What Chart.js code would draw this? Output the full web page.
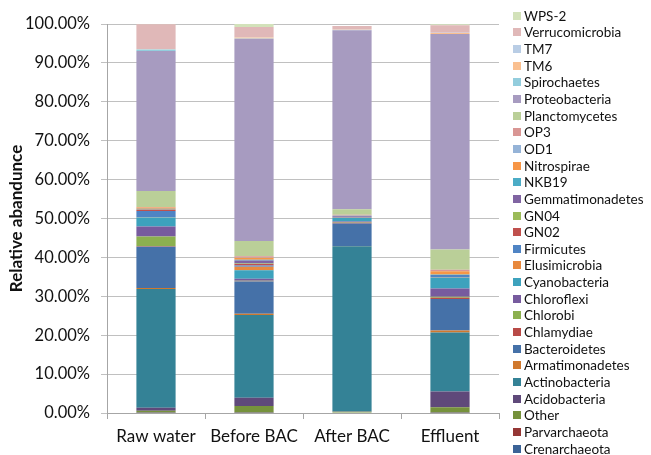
<!DOCTYPE html>
<html>
<head>
<meta charset="utf-8">
<script src="https://cdn.jsdelivr.net/npm/chart.js@4"></script>
<style>
  html, body { margin: 0; padding: 0; background: #fff; }
  #wrap { position: relative; width: 651px; height: 455px; }
  #legend { position: absolute; left: 513px; top: 0; font-family: Lato, sans-serif; font-size: 13.5px; color: #111; }
  .item { position: absolute; left: 0; height: 16px; display: flex; align-items: center; white-space: nowrap; }
  .sw { width: 8px; height: 8px; margin-right: 3px; flex: none; }
</style>
</head>
<body>
<div id="wrap">
  <canvas id="c" width="651" height="455"></canvas>
  <div id="legend"></div>
</div>
<script>
// Sampling points along the treatment train
const categories = ['Raw water', 'Before BAC', 'After BAC', 'Effluent'];

// Phyla, listed from the bottom of each stack to the top
const phyla = [
  'Crenarchaeota', 'Parvarchaeota', 'Other', 'Acidobacteria', 'Actinobacteria',
  'Armatimonadetes', 'Bacteroidetes', 'Chlamydiae', 'Chlorobi', 'Chloroflexi',
  'Cyanobacteria', 'Elusimicrobia', 'Firmicutes', 'GN02', 'GN04',
  'Gemmatimonadetes', 'NKB19', 'Nitrospirae', 'OD1', 'OP3',
  'Planctomycetes', 'Proteobacteria', 'Spirochaetes', 'TM6', 'TM7',
  'Verrucomicrobia', 'WPS-2'
];

// Relative abundance (%) of each phylum, same order as `phyla`
const rawWater  = [0.05, 0.05, 0.45, 0.8, 30.5, 0.3, 10.6, 0.1, 2.5, 2.6, 2.3, 0.1, 1.6, 0.3, 0.05, 0.1, 0.1, 0.3, 0.05, 0.1, 4.1, 36.0, 0.4, 0.05, 0.1, 6.35, 0.05];
const beforeBAC = [0.05, 0.05, 1.7, 2.1, 21.3, 0.3, 8.3, 0.1, 0.1, 0.5, 2.2, 0.9, 0.3, 0.4, 0.1, 0.8, 0.2, 0.5, 0.1, 0.3, 3.9, 52.0, 0.05, 0.3, 0.05, 2.6, 0.8];
const afterBAC  = [0.0, 0.0, 0.33, 0.05, 42.5, 0.05, 5.8, 0.2, 0.1, 0.2, 0.87, 0.05, 0.05, 0.05, 0.05, 0.3, 0.05, 0.05, 0.2, 0.05, 1.46, 46.0, 0.05, 0.05, 0.05, 0.9, 0.0];
const effluent  = [0.05, 0.05, 1.4, 4.0, 15.2, 0.5, 8.1, 0.3, 0.3, 2.1, 2.8, 0.05, 0.6, 0.05, 0.05, 0.05, 0.05, 0.8, 0.05, 0.35, 5.15, 55.4, 0.05, 0.25, 0.05, 1.9, 0.3];

const samples = [rawWater, beforeBAC, afterBAC, effluent];

// Y axis tick values (%)
const yTicks = [0, 10, 20, 30, 40, 50, 60, 70, 80, 90, 100];

// Fill colour per phylum
const colours = [
  '#3B6397', '#953735', '#76923C', '#5F497A', '#348296',
  '#D0792E', '#4571A8', '#B84A47', '#8CB04F', '#775B9E',
  '#3DA2BD', '#E8893E', '#4F84C4', '#C0504D', '#9BBB59',
  '#8064A2', '#4BACC6', '#F79646', '#95B3D7', '#D99694',
  '#BACF98', '#A79BC0', '#93CDDD', '#FAC090', '#B9CDE5',
  '#E0B8B8', '#D3E2BA'
];

const datasets = phyla.map((name, i) => ({
  label: name,
  data: samples.map(s => s[i]),
  backgroundColor: colours[i],
  borderWidth: 0,
  barPercentage: 0.4,
  categoryPercentage: 1.0
}));

const fontFamily = 'Lato, "Liberation Sans", sans-serif';

const chart = new Chart(document.getElementById('c'), {
  type: 'bar',
  data: { labels: categories, datasets },
  options: {
    responsive: false,
    animation: false,
    layout: { padding: { top: 24, right: 152, left: 0, bottom: 0 } },
    plugins: { legend: { display: false }, tooltip: { enabled: false } },
    scales: {
      x: {
        stacked: true,
        grid: { offset: true, drawOnChartArea: false, drawTicks: true, tickLength: 6, color: '#A6A6A6' },
        border: { color: '#A6A6A6' },
        ticks: { font: { family: fontFamily, size: 17 }, color: '#111', padding: 7 },
        afterFit(scale) { scale.height = 42; }
      },
      y: {
        stacked: true,
        min: 0,
        max: 100,
        afterBuildTicks(scale) { scale.ticks = yTicks.map(v => ({ value: v })); },
        ticks: {
          callback: v => v.toFixed(2) + '%',
          font: { family: fontFamily, size: 16.5 },
          color: '#111',
          padding: 11
        },
        grid: { color: '#C0C0C0', tickLength: 6 },
        border: { color: '#A6A6A6' },
        title: {
          display: true,
          text: 'Relative abandunce',
          font: { family: fontFamily, size: 17, weight: 'bold' },
          color: '#111',
          padding: { top: 6, bottom: 0 }
        },
        afterFit(scale) { scale.width = 107; }
      }
    }
  }
});

// Legend: top of the stack first
const legend = document.getElementById('legend');
chart.data.datasets.slice().reverse().forEach((ds, i) => {
  const item = document.createElement('div');
  item.className = 'item';
  item.style.top = (7.7 + 16.65 * i) + 'px';
  const sw = document.createElement('span');
  sw.className = 'sw';
  sw.style.background = ds.backgroundColor;
  const txt = document.createElement('span');
  txt.textContent = ds.label;
  item.appendChild(sw);
  item.appendChild(txt);
  legend.appendChild(item);
});
</script>
</body>
</html>
